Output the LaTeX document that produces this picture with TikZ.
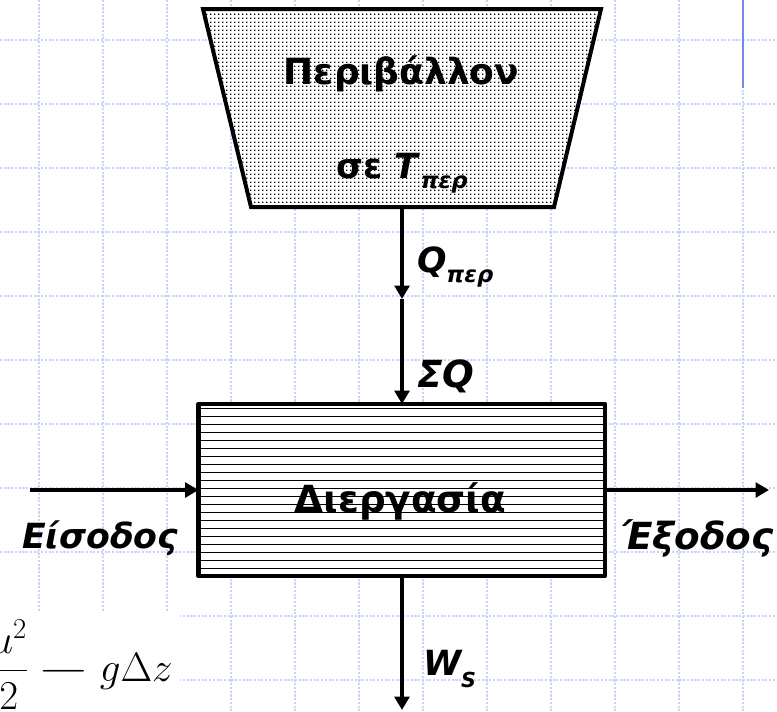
\RequirePackage{fix-cm}
\documentclass[tikz,border=0pt]{standalone}
\usepackage{fontspec}
\setmainfont{DejaVu Sans}
\usepackage{graphicx}
\usetikzlibrary{arrows.meta,patterns}
\definecolor{gridblue}{RGB}{200,212,245}
\definecolor{barblue}{RGB}{110,140,235}
\pgfdeclarepatternformonly{bigdots}{\pgfpointorigin}{\pgfqpoint{3.1pt}{3.1pt}}{\pgfqpoint{3.1pt}{3.1pt}}%
  {\pgfpathrectangle{\pgfpointorigin}{\pgfqpoint{1.15pt}{1.15pt}}\pgfusepath{fill}}
\tikzset{
  gridline/.style={gridblue, line width=0.8pt, dash pattern=on 1.6pt off 1.2pt},
  arr/.style={line width=3pt, -{Triangle[width=11pt,length=10pt]}},
  lbl/.style={inner sep=0pt, outer sep=0pt, font=\fontsize{26}{28}\selectfont\bfseries},
  biglbl/.style={inner sep=0pt, outer sep=0pt, font=\fontsize{28}{30}\selectfont\bfseries},
  hatchline/.style={line width=1.05pt},
  procborder/.style={line width=3.4pt, line join=round},
  envborder/.style={line width=3pt, line join=miter}
}
\newcommand{\subf}{\fontsize{17}{18}\selectfont}
\begin{document}
\begin{tikzpicture}[x=0.75pt,y=-0.75pt]
\useasboundingbox (0,0) rectangle (777,711);
% background grid
\foreach \gx in {39,103,...,743} \draw[gridline] (\gx,0) -- (\gx,711);
\foreach \gy in {40,104,...,680} \draw[gridline] (0,\gy) -- (777,\gy);
% blue bar at top right
\draw[barblue, line width=1.6pt] (743,0) -- (743,88);
% formula patch
\fill[white] (0,612) rectangle (180,711);
\node[anchor=base east, inner sep=0pt, font=\fontsize{28}{32}\selectfont] (form) at (173,681)
  {\scalebox{1.1}{$\displaystyle\frac{u^2}{2}\mathbin{\scalebox{1.65}[1]{$-$}}g\Delta z$}};
% environment trapezoid
\coordinate (tl) at (203,9);
\coordinate (tr) at (601,9);
\coordinate (br) at (554,207);
\coordinate (bl) at (251,207);
\fill[white] (tl) -- (tr) -- (br) -- (bl) -- cycle;
\path[pattern=bigdots] (tl) -- (tr) -- (br) -- (bl) -- cycle;
\draw[envborder] (tl) -- (tr) -- (br) -- (bl) -- cycle;
\node[lbl, anchor=base, font=\fontsize{27}{29}\selectfont\bfseries] (envt1) at (401.5,84.5) {Περιβάλλον};
\node[lbl, anchor=base] (envt2) at (402,178) {σε \textit{T}\raisebox{-7.5pt}{\subf\itshape περ}};
% process box
\node[fill=white, minimum width=304.9pt, minimum height=129pt, inner sep=0pt, outer sep=0pt] (proc) at (401.75,490) {};
\foreach \k in {0,...,20} \draw[hatchline] (199,{408.3+8*\k}) -- (605,{408.3+8*\k});
\draw[procborder] (proc.north west) rectangle (proc.south east);
\node[biglbl, anchor=base] (proct) at (400.5,512) {Διεργασία};
% connectors
\coordinate (envb) at (402,207);
\coordinate (qmid) at (402,299);
\draw[arr] (envb) -- (qmid);
\draw[arr] (qmid) -- (envb |- proc.north);
\coordinate (inL) at (30,490);
\draw[arr] (inL) -- (proc.west |- inL);
\coordinate (outR) at (769,490);
\draw[arr] (proc.east |- outR) -- (outR);
\coordinate (wout) at (402,710);
\draw[arr] (wout |- proc.south) -- (wout);
% labels
\node[lbl, anchor=base west] (qlbl) at (417,272) {\itshape Q\raisebox{-7.5pt}{\subf περ}};
\node[biglbl, anchor=base west] (sqlbl) at (417,387) {\itshape ΣQ};
\node[lbl, anchor=base west] (inlbl) at (22,548) {\itshape Είσοδος};
\node[biglbl, anchor=base west] (outlbl) at (621,549) {\itshape Έξοδος};
\node[lbl, anchor=base west] (wlbl) at (423,675) {\itshape W\raisebox{-9pt}{\fontsize{15.5}{17}\selectfont S}};
\end{tikzpicture}
\end{document}
